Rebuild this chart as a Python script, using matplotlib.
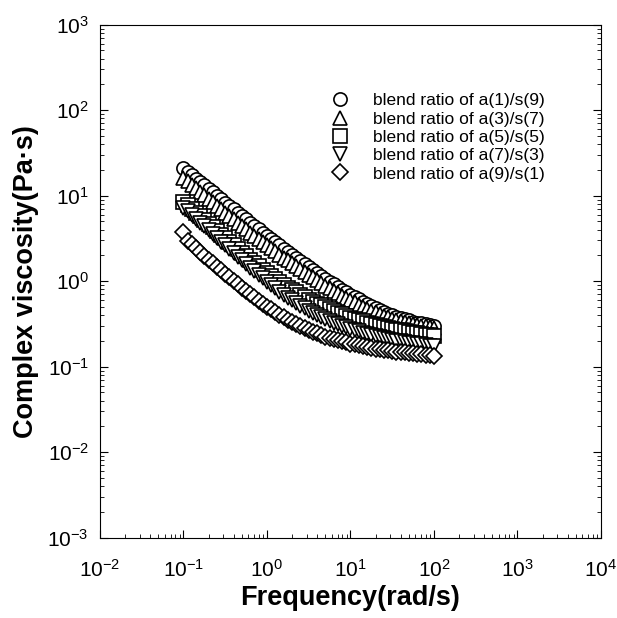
import matplotlib

matplotlib.use("Agg")
import matplotlib.pyplot as plt
from matplotlib.ticker import LogLocator

plt.rcParams.update({
    "font.family": ["Liberation Sans", "DejaVu Sans"],
    "mathtext.default": "regular",
    "axes.unicode_minus": False,
    "xtick.direction": "in",
    "ytick.direction": "in",
})

# frequency sweep, rad/s (same grid for every blend)
freq = [
    0.1, 0.1122, 0.1259, 0.1413, 0.1585, 0.1778, 0.1995, 0.2239, 0.2512, 0.2818,
    0.3162, 0.3548, 0.3981, 0.4467, 0.5012, 0.5623, 0.6310, 0.7079, 0.7943, 0.8913,
    1.0, 1.122, 1.259, 1.413, 1.585, 1.778, 1.995, 2.239, 2.512, 2.818,
    3.162, 3.548, 3.981, 4.467, 5.012, 5.623, 6.310, 7.079, 7.943, 8.913,
    10.0, 11.22, 12.59, 14.13, 15.85, 17.78, 19.95, 22.39, 25.12, 28.18,
    31.62, 35.48, 39.81, 44.67, 50.12, 56.23, 63.10, 70.79, 79.43, 89.13, 100.0,
]

# complex viscosity, Pa.s
eta_a1s9 = [
    20.9, 19.1, 17.4, 15.85, 14.45, 13.18, 12.02, 10.96, 10.0, 9.12,
    8.32, 7.60, 6.93, 6.34, 5.78, 5.28, 4.83, 4.42, 4.04, 3.69,
    3.37, 3.10, 2.85, 2.62, 2.41, 2.21, 2.04, 1.875, 1.73, 1.59,
    1.46, 1.35, 1.25, 1.156, 1.07, 0.989, 0.920, 0.857, 0.798, 0.743,
    0.692, 0.650, 0.611, 0.574, 0.540, 0.507, 0.483, 0.460, 0.439, 0.418,
    0.398, 0.385, 0.372, 0.359, 0.347, 0.335, 0.328, 0.321, 0.315, 0.308, 0.302,
]
eta_a3s7 = [
    16.2, 14.8, 13.4, 12.2, 11.1, 10.1, 9.16, 8.36, 7.60, 6.93,
    6.31, 5.77, 5.27, 4.82, 4.41, 4.03, 3.70, 3.39, 3.11, 2.85,
    2.62, 2.42, 2.23, 2.05, 1.89, 1.75, 1.62, 1.50, 1.39, 1.28,
    1.19, 1.11, 1.03, 0.957, 0.889, 0.828, 0.774, 0.726, 0.679, 0.637,
    0.596, 0.564, 0.533, 0.505, 0.478, 0.452, 0.433, 0.414, 0.396, 0.379,
    0.363, 0.352, 0.342, 0.332, 0.322, 0.313, 0.307, 0.301, 0.296, 0.290, 0.285,
]
eta_a5s5 = [
    8.51, 7.71, 6.98, 6.32, 5.73, 5.19, 4.70, 4.27, 3.86, 3.51,
    3.18, 2.88, 2.62, 2.38, 2.16, 1.96, 1.79, 1.63, 1.49, 1.36,
    1.24, 1.15, 1.06, 0.984, 0.910, 0.841, 0.789, 0.740, 0.693, 0.650,
    0.610, 0.578, 0.548, 0.520, 0.493, 0.468, 0.448, 0.429, 0.410, 0.393,
    0.376, 0.363, 0.351, 0.339, 0.327, 0.316, 0.308, 0.300, 0.292, 0.284,
    0.277, 0.271, 0.265, 0.260, 0.255, 0.249, 0.245, 0.241, 0.237, 0.233, 0.229,
]
eta_a7s3 = [
    7.24, 6.55, 5.92, 5.35, 4.83, 4.37, 3.94, 3.56, 3.22, 2.91,
    2.63, 2.38, 2.15, 1.94, 1.75, 1.58, 1.44, 1.31, 1.19, 1.08,
    0.977, 0.897, 0.824, 0.757, 0.695, 0.638, 0.596, 0.556, 0.519, 0.484,
    0.452, 0.428, 0.405, 0.383, 0.362, 0.343, 0.328, 0.314, 0.301, 0.288,
    0.275, 0.267, 0.258, 0.249, 0.241, 0.233, 0.228, 0.222, 0.216, 0.211,
    0.206, 0.202, 0.198, 0.194, 0.191, 0.187, 0.185, 0.182, 0.179, 0.176, 0.174,
]
eta_a9s1 = [
    3.80, 2.99, 2.69, 2.43, 2.19, 1.97, 1.79, 1.63, 1.48, 1.34,
    1.22, 1.11, 1.01, 0.923, 0.841, 0.767, 0.705, 0.647, 0.594, 0.546,
    0.501, 0.467, 0.435, 0.405, 0.377, 0.351, 0.332, 0.314, 0.297, 0.281,
    0.266, 0.255, 0.245, 0.235, 0.225, 0.216, 0.210, 0.204, 0.198, 0.192,
    0.186, 0.182, 0.178, 0.174, 0.170, 0.166, 0.163, 0.160, 0.158, 0.155,
    0.152, 0.150, 0.148, 0.147, 0.145, 0.143, 0.141, 0.139, 0.138, 0.136, 0.135,
]

x_decades = [1e-2, 1e-1, 1e0, 1e1, 1e2, 1e3, 1e4]
y_decades = [1e-3, 1e-2, 1e-1, 1e0, 1e1, 1e2, 1e3]

SERIES = [
    (eta_a1s9, "o", "blend ratio of a(1)/s(9)"),
    (eta_a3s7, "^", "blend ratio of a(3)/s(7)"),
    (eta_a5s5, "s", "blend ratio of a(5)/s(5)"),
    (eta_a7s3, "v", "blend ratio of a(7)/s(3)"),
    (eta_a9s1, "D", "blend ratio of a(9)/s(1)"),
]

fig = plt.figure(figsize=(6.17, 6.18), dpi=100)
ax = fig.add_axes([0.162, 0.130, 0.812, 0.830])

for eta, marker, label in SERIES:
    ms = 8 if marker == "D" else 9.5
    ax.plot(freq, eta, linestyle="none", marker=marker, ms=ms, mfc="white",
            mec="black", mew=1.2, label=label)

ax.set_xscale("log")
ax.set_yscale("log")
ax.set_xlim(x_decades[0], x_decades[-1])
ax.set_ylim(y_decades[0], y_decades[-1])
ax.set_xticks(x_decades)
ax.set_yticks(y_decades)
ax.xaxis.set_minor_locator(LogLocator(base=10, subs=range(2, 10), numticks=20))
ax.yaxis.set_minor_locator(LogLocator(base=10, subs=range(2, 10), numticks=20))
ax.tick_params(which="both", right=True, top=False, labelsize=15)
ax.tick_params(which="major", length=6, width=0.8)
ax.tick_params(which="minor", length=3, width=0.6)
ax.tick_params(axis="x", pad=15)
ax.tick_params(axis="y", pad=8)

ax.set_xlabel("Frequency(rad/s)", fontsize=19.5, fontweight="bold")
ax.set_ylabel("Complex viscosity(Pa\u00b7s)", fontsize=19.5, fontweight="bold")
ax.xaxis.set_label_coords(0.5, -0.092)
ax.yaxis.set_label_coords(-0.122, 0.5)

ax.legend(loc="upper left", bbox_to_anchor=(0.42, 0.89), frameon=False,
          fontsize=12.5, handletextpad=0.9, labelspacing=0.18,
          borderpad=0.2, handlelength=2.0)

fig.savefig("out.png", dpi=100)
